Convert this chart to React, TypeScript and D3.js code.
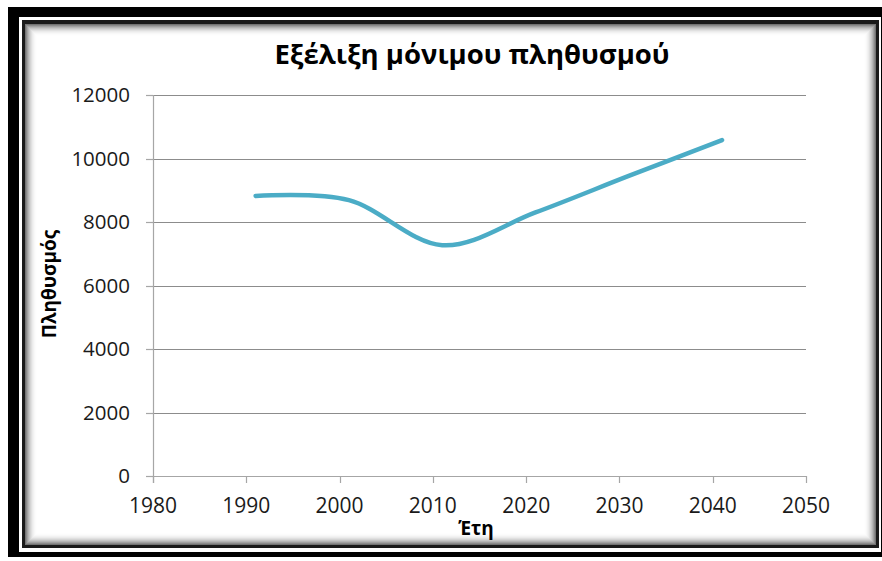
import React from 'react';
import * as d3 from 'd3';

const years = [1991, 2001, 2011, 2021, 2031, 2041];
const population = [8820, 8690, 7270, 8300, 9450, 10580];
const yTicks = [0, 2000, 4000, 6000, 8000, 10000, 12000];
const xTicks = [1980, 1990, 2000, 2010, 2020, 2030, 2040, 2050];
const title = 'Εξέλιξη μόνιμου πληθυσμού';
const yTitle = 'Πληθυσμός';
const xTitle = 'Έτη';

const W = 882;
const H = 561;
const FONT = '"Open Sans", "Noto Sans", sans-serif';

export default function App() {
  const x = d3.scaleLinear().domain([1980, 2050]).range([153, 806]);
  const y = d3.scaleLinear().domain([0, 12000]).range([476, 95]);
  const pts = years.map((yr, i) => [yr, population[i]] as [number, number]);
  const line = d3
    .line<[number, number]>()
    .x((d) => x(d[0]))
    .y((d) => y(d[1]))
    .curve(d3.curveCardinal.tension(0));

  const shadowSteps = d3.range(0, 12);

  return (
    <div style={{ position: 'absolute', left: 0, top: 0 }}>
      <svg width={W} height={H} style={{ display: 'block' }}>
        <rect x={0} y={0} width={W} height={H} fill="#ffffff" />
        {/* outer black frame */}
        <rect x={8} y={7} width={W} height={550} fill="#000000" />
        {/* thin white gap */}
        <rect x={19} y={17} width={862} height={535} fill="#ffffff" />
        {/* inner dark frame */}
        <rect x={22} y={20} width={857} height={528} fill="#1a1a1a" />
        {/* white content */}
        <rect x={25} y={24} width={851} height={521} fill="#ffffff" />
        {/* inset shadow */}
        {shadowSteps.map((i) => (
          <rect
            key={i}
            x={25 + i + 0.5}
            y={24 + i + 0.5}
            width={851 - 2 * i - 1}
            height={521 - 2 * i - 1}
            fill="none"
            stroke="#000"
            strokeOpacity={0.55 * Math.pow(1 - i / 12, 2.2)}
            strokeWidth={1}
          />
        ))}

        {/* gridlines */}
        {yTicks.map((t) => (
          <line
            key={'g' + t}
            x1={x(1980)}
            x2={x(2050)}
            y1={Math.round(y(t)) + 0.5}
            y2={Math.round(y(t)) + 0.5}
            stroke={t === 0 ? '#a6a6a6' : '#8c8c8c'}
            strokeWidth={1.2}
          />
        ))}
        {/* y axis */}
        <line x1={x(1980) + 0.5} x2={x(1980) + 0.5} y1={y(12000)} y2={y(0) + 7} stroke="#a6a6a6" strokeWidth={1.2} />
        {yTicks.map((t) => (
          <line
            key={'yt' + t}
            x1={x(1980) - 7}
            x2={x(1980)}
            y1={Math.round(y(t)) + 0.5}
            y2={Math.round(y(t)) + 0.5}
            stroke="#a6a6a6"
            strokeWidth={1.2}
          />
        ))}
        {yTicks.map((t) => (
          <text
            key={'yl' + t}
            x={130}
            y={y(t)}
            dy="0.35em"
            textAnchor="end"
            fontFamily={FONT}
            fontSize={20.5}
            fill="#1a1a1a"
          >
            {t}
          </text>
        ))}
        {/* x ticks */}
        {xTicks.map((t) => (
          <line
            key={'xt' + t}
            x1={Math.round(x(t)) + 0.5}
            x2={Math.round(x(t)) + 0.5}
            y1={y(0)}
            y2={y(0) + 7}
            stroke="#a6a6a6"
            strokeWidth={1.2}
          />
        ))}
        {xTicks.map((t) => (
          <text
            key={'xl' + t}
            x={x(t)}
            y={513}
            textAnchor="middle"
            fontFamily={FONT}
            fontSize={21}
            fill="#1a1a1a"
          >
            {t}
          </text>
        ))}

        {/* data line */}
        <path
          d={line(pts) || ''}
          fill="none"
          stroke="#4bacc6"
          strokeWidth={4.5}
          strokeLinecap="round"
          strokeLinejoin="round"
        />

        {/* titles */}
        <text
          x={472}
          y={64}
          textAnchor="middle"
          fontFamily={FONT}
          fontSize={27.5}
          fontWeight="bold"
          fill="#000"
        >
          {title}
        </text>
        <text
          transform={`translate(56, 284) rotate(-90)`}
          textAnchor="middle"
          fontFamily={FONT}
          fontSize={19}
          fontWeight="bold"
          fill="#000"
        >
          {yTitle}
        </text>
        <text
          x={476}
          y={535}
          textAnchor="middle"
          fontFamily={FONT}
          fontSize={19}
          fontWeight="bold"
          fill="#000"
        >
          {xTitle}
        </text>
      </svg>
    </div>
  );
}
